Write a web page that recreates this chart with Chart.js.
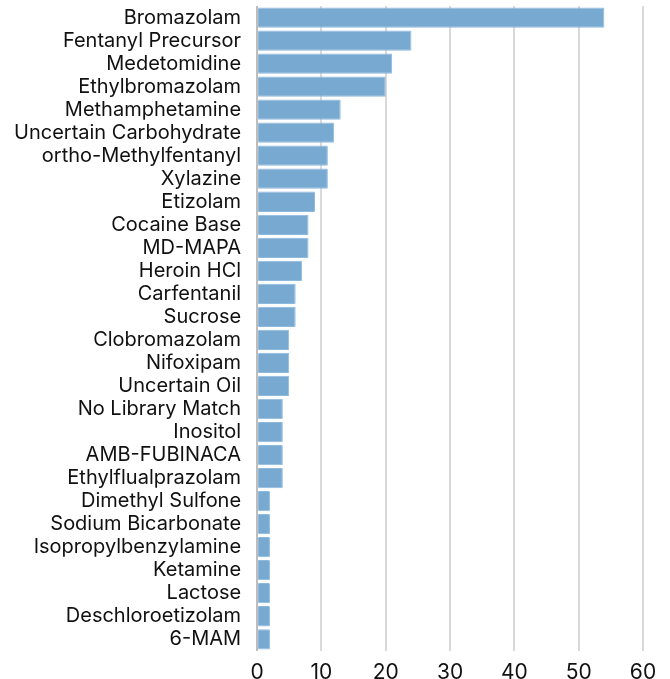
<!DOCTYPE html>
<html>
<head>
<meta charset="utf-8">
<script src="https://cdn.jsdelivr.net/npm/chart.js@4"></script>
<style>
html,body{margin:0;padding:0;background:#fff;}
canvas{display:block;}
</style>
</head>
<body>
<canvas id="c" width="670" height="679"></canvas>
<script>
const categories = ["Bromazolam","Fentanyl Precursor","Medetomidine","Ethylbromazolam","Methamphetamine","Uncertain Carbohydrate","ortho-Methylfentanyl","Xylazine","Etizolam","Cocaine Base","MD-MAPA","Heroin HCl","Carfentanil","Sucrose","Clobromazolam","Nifoxipam","Uncertain Oil","No Library Match","Inositol","AMB-FUBINACA","Ethylflualprazolam","Dimethyl Sulfone","Sodium Bicarbonate","Isopropylbenzylamine","Ketamine","Lactose","Deschloroetizolam","6-MAM"];
const counts = [54,24,21,20,13,12,11,11,9,8,8,7,6,6,5,5,5,4,4,4,4,2,2,2,2,2,2,2];
const xTicks = [0,10,20,30,40,50,60];

const FONT = "Inter, 'DejaVu Sans', sans-serif";
new Chart(document.getElementById('c'), {
  type: 'bar',
  data: {
    labels: categories,
    datasets: [{
      data: counts,
      backgroundColor: '#78a9d1',
      borderColor: '#8db9dd',
      borderWidth: 1,
      borderRadius: 1,
      barPercentage: 0.88,
      categoryPercentage: 1.0
    }]
  },
  options: {
    indexAxis: 'y',
    responsive: false,
    devicePixelRatio: 1,
    animation: false,
    layout: { padding: { top: -8, right: 27, bottom: -15, left: 14 } },
    plugins: { legend: { display: false }, tooltip: { enabled: false } },
    scales: {
      x: {
        min: 0, max: 60,
        afterBuildTicks: (axis) => { axis.ticks = xTicks.map(v => ({ value: v })); },
        grid: { color: (ctx) => ctx.tick && ctx.tick.value === 0 ? '#bdbdbd' : '#d9d9d9', lineWidth: 2, drawTicks: false },
        border: { display: false },
        ticks: { color: '#111', font: { family: FONT, size: 21 }, padding: 9 }
      },
      y: {
        grid: { display: false, drawTicks: true, tickLength: 16 },
        border: { display: false },
        ticks: { color: '#111', font: { family: FONT, size: 20, lineHeight: 0.6 }, padding: 0, autoSkip: false }
      }
    }
  }
});
</script>
</body>
</html>
